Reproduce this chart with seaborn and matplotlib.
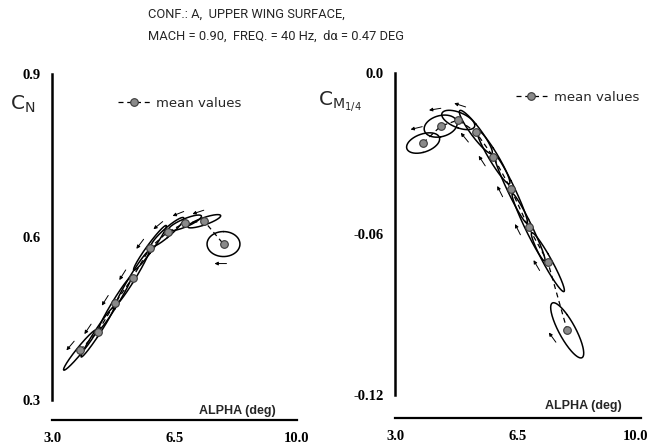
import numpy as np
import pandas as pd
import matplotlib
matplotlib.use("Agg")
import matplotlib.pyplot as plt
import matplotlib.transforms as mtransforms
import seaborn as sns
from matplotlib.lines import Line2D

# Mean incidence of each oscillation test point (deg) and pitch amplitude
alpha_mean = [3.80, 4.30, 4.80, 5.30, 5.80, 6.30, 6.80, 7.35, 7.90]
d_alpha = 0.47

# Normal force coefficient: mean value, in-phase and out-of-phase amplitude
cn_mean = [0.392, 0.425, 0.478, 0.525, 0.580, 0.609, 0.626, 0.629, 0.587]
cn_inphase = [0.036, 0.045, 0.048, 0.048, 0.040, 0.025, 0.012, 0.010, 0.000]
cn_outphase = [-0.009, -0.009, -0.010, -0.010, -0.010, -0.010, -0.008, -0.007, 0.023]

# Quarter-chord pitching moment coefficient
cm_mean = [-0.0261, -0.0198, -0.0175, -0.0220, -0.0313, -0.0433, -0.0575, -0.0705, -0.0959]
cm_inphase = [0.0015, 0.0010, -0.0020, -0.0075, -0.0095, -0.0123, -0.0122, -0.0105, -0.0085]
cm_outphase = [-0.0035, -0.0040, -0.0030, 0.0030, 0.0032, 0.0032, 0.0030, 0.0032, 0.0058]

x_ticks = [3.0, 6.5, 10.0]
x_ticklabels = ["3.0", "6.5", "10.0"]
cn_ticks = [0.3, 0.6, 0.9]
cn_ticklabels = ["0.3", "0.6", "0.9"]
cm_ticks = [-0.12, -0.06, 0.0]
cm_ticklabels = ["-0.12", "-0.06", "0.0"]

sns.set_style("white")
plt.rcParams["font.family"] = ["DejaVu Sans"]

W, H = 652, 447
fig = plt.figure(figsize=(W / 100, H / 100), dpi=100)

phase = np.linspace(0, 2 * np.pi, 241)


def loop_frame(means, inph, outph):
    rows = []
    for i, (a0, c0, a, b) in enumerate(zip(alpha_mean, means, inph, outph)):
        rows.append(pd.DataFrame({
            "loop": i,
            "alpha": a0 + d_alpha * np.sin(phase),
            "coef": c0 + a * np.sin(phase) + b * np.cos(phase),
        }))
    return pd.concat(rows, ignore_index=True)


def loop_arrows(ax, means, inph, outph, gap=7, half_len=6):
    for a0, c0, a, b in zip(alpha_mean, means, inph, outph):
        p0 = ax.transData.transform((a0, c0))
        p1 = ax.transData.transform((a0 + d_alpha, c0 + a))
        d = (p1 - p0) / np.hypot(*(p1 - p0))
        n = np.array([-d[1], d[0]])
        pb = ax.transData.transform((a0, c0 - b))
        off = np.dot(pb - p0, n)
        side = 1.0 if off >= 0 else -1.0
        centre = p0 + n * side * (abs(off) + gap) - d * 3
        ax.annotate("", xy=tuple(centre - d * half_len), xytext=tuple(centre + d * half_len),
                    xycoords="figure pixels", textcoords="figure pixels",
                    arrowprops=dict(arrowstyle="-|>", lw=0.7, color="black",
                                    mutation_scale=5, shrinkA=0, shrinkB=0))


def style_axes(ax, yticks, ylabels, ylim, offset_px):
    ax.set_xlim(3.0, 10.0)
    ax.set_ylim(*ylim)
    for s in ("top", "right"):
        ax.spines[s].set_visible(False)
    ax.spines["left"].set_linewidth(1.8)
    ax.spines["bottom"].set_linewidth(1.6)
    ax.spines["left"].set_color("black")
    ax.spines["bottom"].set_color("black")
    ax.spines["bottom"].set_position(("outward", offset_px * 0.72))
    ax.set_xticks(x_ticks)
    ax.set_xticklabels(x_ticklabels, fontfamily="Liberation Serif", fontweight="bold", fontsize=10.5)
    ax.set_yticks(yticks)
    ax.set_yticklabels(ylabels, fontfamily="Liberation Serif", fontweight="bold", fontsize=10.5)
    ax.tick_params(axis="x", direction="inout", length=12, width=1.3, pad=3, colors="black")
    ax.tick_params(axis="y", direction="inout", length=10, width=1.3, pad=3, colors="black")
    ax.set_xlabel("")
    ax.set_ylabel("")
    ax.set_facecolor("none")


marker_kw = dict(marker="o", markersize=5.5, markerfacecolor="#8a8a8a",
                 markeredgecolor="#3a3a3a", markeredgewidth=0.8)


def panel(rect, means, inph, outph, yticks, ylabels, ylim, offset_px, legend_xy, ylabel, ylabel_xy, alpha_lbl_x):
    ax = fig.add_axes(rect)
    style_axes(ax, yticks, ylabels, ylim, offset_px)
    loops = loop_frame(means, inph, outph)
    sns.lineplot(data=loops, x="alpha", y="coef", units="loop", estimator=None, sort=False,
                 color="black", linewidth=1.1, ax=ax)
    mean_df = pd.DataFrame({"alpha": alpha_mean, "coef": means})
    sns.lineplot(data=mean_df, x="alpha", y="coef", sort=False, color="black", linewidth=0.9,
                 linestyle=(0, (4, 3)), ax=ax, **marker_kw)
    ax.set_xlabel("")
    ax.set_ylabel("")
    loop_arrows(ax, means, inph, outph)
    handle = Line2D([], [], color="black", linewidth=0.9, linestyle=(0, (4, 3)), **marker_kw)
    ax.legend([handle], ["mean values"], frameon=False, loc="center left",
              bbox_to_anchor=legend_xy, handlelength=2.4, handletextpad=0.5,
              borderaxespad=0, borderpad=0, prop={"family": "DejaVu Sans", "size": 9.5})
    ax.annotate("ALPHA (deg)", xy=(alpha_lbl_x, 0), xycoords=("data", "axes fraction"),
                xytext=(0, -8), textcoords="offset points", ha="center", va="center",
                fontweight="bold", fontsize=9, family="Liberation Sans")
    fig.text(ylabel_xy[0] / W, 1 - ylabel_xy[1] / H, ylabel, fontsize=14.5, ha="left", va="center")
    return ax


axL = panel([52 / W, 1 - 400 / H, 245 / W, 326 / H], cn_mean, cn_inphase, cn_outphase,
            cn_ticks, cn_ticklabels, (0.3, 0.9), 20, (0.27, 0.911),
            r"$\mathregular{C_N}$", (10, 104), 8.29)

axR = panel([395 / W, 1 - 395 / H, 246 / W, 322 / H], cm_mean, cm_inphase, cm_outphase,
            cm_ticks, cm_ticklabels, (-0.12, 0.0), 23, (0.49, 0.925),
            r"$\mathregular{C_{M_{1/4}}}$", (318, 102), 8.36)

# keep the last alpha label of the right panel inside the figure
last = axR.get_xticklabels()[-1]
last.set_transform(last.get_transform()
                   + mtransforms.ScaledTranslation(-5 / 100, 0, fig.dpi_scale_trans))

title_font = ["Roboto", "DejaVu Sans"]
fig.text(148 / W, 1 - 14 / H, "CONF.: A,  UPPER WING SURFACE,", family=title_font,
         fontsize=9.3, ha="left", va="center")
fig.text(148 / W, 1 - 36 / H, "MACH = 0.90,  FREQ. = 40 Hz,  d\u03b1 = 0.47 DEG", family=title_font,
         fontsize=9.3, ha="left", va="center")

fig.savefig("out.png", dpi=100, facecolor="white")
